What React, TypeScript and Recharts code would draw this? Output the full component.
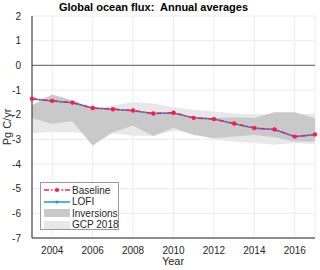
import { ComposedChart, Line, Area, XAxis, YAxis, CartesianGrid, ReferenceLine } from "recharts";

const years = [2003, 2004, 2005, 2006, 2007, 2008, 2009, 2010, 2011, 2012, 2013, 2014, 2015, 2016, 2017];
const baseline = [-1.35, -1.44, -1.51, -1.73, -1.78, -1.83, -1.95, -1.92, -2.13, -2.18, -2.36, -2.54, -2.6, -2.89, -2.8];
const lofi = [-1.36, -1.45, -1.52, -1.73, -1.78, -1.84, -1.95, -1.93, -2.13, -2.18, -2.37, -2.55, -2.6, -2.89, -2.81];
const invLow = [-2.15, -2.37, -2.27, -3.25, -2.71, -2.45, -2.86, -2.53, -2.82, -2.95, -2.89, -2.82, -2.92, -3.09, -3.09];
const invHigh = [-1.62, -1.18, -1.42, -1.74, -1.8, -1.86, -1.96, -1.92, -2.09, -2.14, -2.1, -2.14, -1.9, -1.9, -2.15];
const gcpLow = [-2.75, -2.7, -2.7, -2.8, -2.75, -2.85, -2.85, -2.65, -2.75, -3.02, -3.09, -3.15, -3.22, -3.15, -3.19];
const gcpHigh = [-1.72, -1.7, -1.7, -1.8, -1.62, -1.5, -1.55, -1.7, -1.8, -1.87, -1.95, -2.0, -2.0, -1.98, -1.95];

const xTicks = [2004, 2006, 2008, 2010, 2012, 2014, 2016];
const yTicks = [2, 1, 0, -1, -2, -3, -4, -5, -6, -7];

const data = years.map((year, i) => ({
  year,
  baseline: baseline[i],
  lofi: lofi[i],
  inv: [invLow[i], invHigh[i]],
  gcp: [gcpLow[i], gcpHigh[i]],
}));

const RED = "#ff1a4a";
const BLUE = "#1f8fff";
const DARK = "#c9c9c9";
const LIGHT = "#e8e8e8";
const font = "'Liberation Sans', Arial, sans-serif";
const tick = { fontSize: 10, fill: "#262626", fontFamily: font };

function LegendBox() {
  const rows: { label: string; kind: string }[] = [
    { label: "Baseline", kind: "base" },
    { label: "LOFI", kind: "lofi" },
    { label: "Inversions", kind: "inv" },
    { label: "GCP 2018", kind: "gcp" },
  ];
  return (
    <div style={{ position: "absolute", left: 40, top: 182, width: 79, height: 48, background: "#fff", border: "1px solid #9a9a9a", boxSizing: "border-box", fontFamily: font, fontSize: 10, color: "#262626" }}>
      {rows.map((r, i) => (
        <div key={r.label} style={{ position: "absolute", left: 0, top: 1 + i * 11.6, height: 12, display: "flex", alignItems: "center", whiteSpace: "nowrap" }}>
          <svg width={29} height={12} style={{ marginLeft: 2, flex: "none" }}>
            {r.kind === "base" && (
              <g>
                <line x1={1} y1={6} x2={27} y2={6} stroke={RED} strokeWidth={1.5} strokeDasharray="5 2 1.5 2" />
                <circle cx={14} cy={6} r={2} fill={RED} />
              </g>
            )}
            {r.kind === "lofi" && (
              <g>
                <line x1={1} y1={6} x2={27} y2={6} stroke={BLUE} strokeWidth={1.5} />
                <circle cx={14} cy={6} r={1.6} fill={BLUE} />
              </g>
            )}
            {r.kind === "inv" && <rect x={1} y={2} width={26} height={8} fill={DARK} />}
            {r.kind === "gcp" && <rect x={1} y={2} width={26} height={8} fill={LIGHT} />}
          </svg>
          <span>{r.label}</span>
        </div>
      ))}
    </div>
  );
}

export default function App() {
  return (
    <div style={{ position: "absolute", left: 0, top: 0, width: 320, height: 270, background: "#fff" }}>
      <ComposedChart width={320} height={270} data={data} margin={{ top: 16, right: 5, bottom: 0, left: 0 }}>
        <CartesianGrid stroke="#ececec" strokeWidth={1} />
        <XAxis
          dataKey="year"
          type="number"
          domain={[2003, 2017]}
          ticks={xTicks}
          height={32}
          tick={tick}
          tickLine={false}
          tickMargin={3}
          axisLine={{ stroke: "#262626" }}
        />
        <YAxis
          type="number"
          domain={[-7, 2]}
          ticks={yTicks}
          width={32}
          tick={tick}
          tickLine={false}
          tickMargin={5}
          axisLine={{ stroke: "#262626" }}
          interval={0}
        />
        <Area dataKey="gcp" type="linear" stroke="none" fill={LIGHT} fillOpacity={1} isAnimationActive={false} />
        <Area dataKey="inv" type="linear" stroke="none" fill={DARK} fillOpacity={1} isAnimationActive={false} />
        <ReferenceLine y={0} stroke="#7a7a7a" strokeWidth={1.2} />
        <Line dataKey="lofi" type="linear" stroke={BLUE} strokeWidth={1.5} dot={{ r: 1.6, fill: BLUE, stroke: "none" }} isAnimationActive={false} />
        <Line dataKey="baseline" type="linear" stroke={RED} strokeWidth={1.5} strokeDasharray="5 2 1.5 2" dot={{ r: 2.2, fill: RED, stroke: "none" }} isAnimationActive={false} />
      </ComposedChart>
      <div style={{ position: "absolute", left: 0, width: 307, top: 1, textAlign: "center", fontFamily: font, fontWeight: "bold", fontSize: 11, color: "#000", whiteSpace: "pre" }}>
        {"Global ocean flux:  Annual averages"}
      </div>
      <div style={{ position: "absolute", left: 123, width: 100, top: 255, textAlign: "center", fontFamily: font, fontSize: 11, color: "#262626" }}>
        Year
      </div>
      <div style={{ position: "absolute", left: -43, top: 120, width: 100, height: 14, textAlign: "center", transform: "rotate(-90deg)", fontFamily: font, fontSize: 11, color: "#262626", lineHeight: "14px" }}>
        Pg C/yr
      </div>
      <LegendBox />
    </div>
  );
}
